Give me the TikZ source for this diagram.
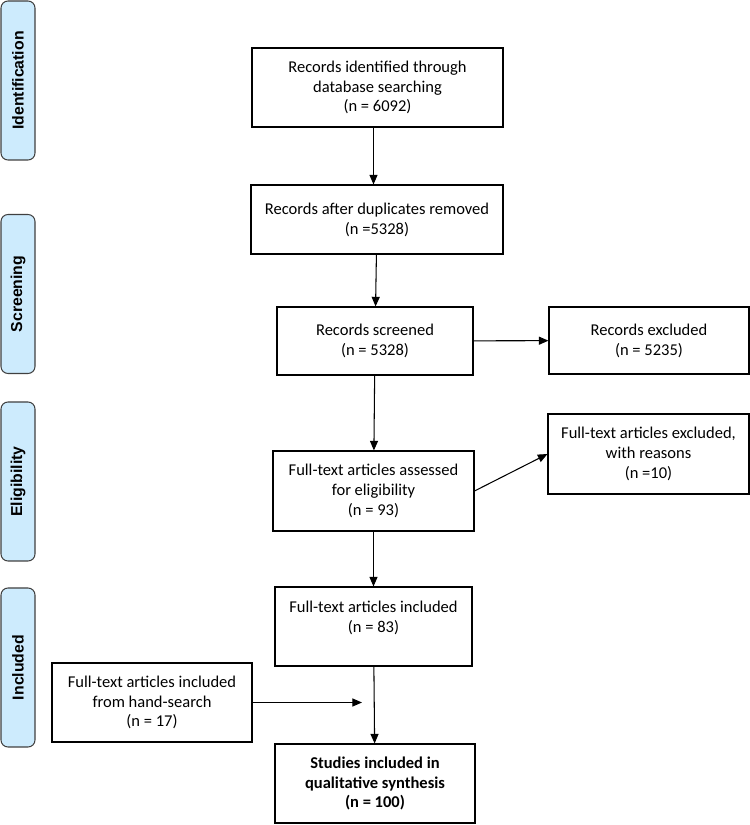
\documentclass[tikz,border=0pt]{standalone}
\usepackage{fontspec}
\setmainfont{Carlito}
\newfontfamily\phfont{Liberation Sans}
\usetikzlibrary{arrows.meta}
\definecolor{phfill}{RGB}{205,235,253}
\begin{document}
\begin{tikzpicture}
[ar/.style={-{Triangle[length=5.5pt,width=4.6pt]},line width=0.6pt},
 bx/.style={draw,line width=0.6pt,align=center,minimum width=4cm,minimum height=1.58cm,
   font=\fontsize{9.4}{11.3}\selectfont},
 ph/.style={draw=black!75,fill=phfill,rounded corners=4pt,line width=0.6pt,rotate=90,
   minimum width=3.18cm,minimum height=0.68cm,font=\phfont\bfseries\fontsize{9}{10}\selectfont}]
\useasboundingbox (0cm,0cm) rectangle (15cm,16.5cm);

\node [ph] at (0.36cm,14.89cm) (P1) {Identification};
\node [ph] at (0.36cm,10.62cm) (P2) {Screening};
\node [ph] at (0.36cm,6.87cm) (P3) {Eligibility};
\node [ph] at (0.36cm,3.15cm) (P4) {Included};

\node [bx,minimum width=5.02cm] at (7.55cm,14.75cm) (ID) {Records identified through\\database searching\\(n = 6092)};
\node [bx,minimum width=5.04cm,minimum height=1.38cm] at (7.54cm,12.11cm) (DUP) {Records after duplicates removed\\(n =5328)};
\node [bx,minimum width=3.92cm,minimum height=1.36cm] at (7.5cm,9.68cm) (SCR) {Records screened\\(n = 5328)};
\node [bx,minimum height=1.34cm] at (12.98cm,9.69cm) (EXR) {Records excluded\\(n = 5235)};
\node [bx,minimum width=4.02cm,minimum height=1.6cm] at (7.47cm,6.68cm) (ELG) {Full-text articles assessed\\for eligibility\\(n = 93)};
\node [bx,minimum width=4.02cm,minimum height=1.6cm] at (12.97cm,7.42cm) (EXF) {Full-text articles excluded,\\with reasons\\(n =10)};
\node [bx,minimum width=3.94cm] at (7.47cm,3.97cm) (INC) {Full-text articles included\\(n = 83)\\~};
\node [bx] at (3.04cm,2.45cm) (HS) {Full-text articles included\\from hand-search\\(n = 17)};
\node [bx,font=\fontsize{9.4}{11.3}\selectfont\bfseries] at (7.5cm,0.83cm) (QS) {Studies included in\\qualitative synthesis\\(n = 100)};
\coordinate (HE) at (7.24cm,2.45cm);

\draw [ar] (ID.south -| ELG) -- (DUP.north -| ELG);
\draw [ar] (DUP) -- (SCR);
\draw [ar] (SCR) -- (EXR);
\draw [ar] (SCR) -- (ELG);
\draw [ar] (ELG.east) -- (EXF.west);
\draw [ar] (ELG) -- (INC);
\draw [ar] (INC) -- (QS);
\draw [ar] (HS.east) -- (HE);
\end{tikzpicture}
\end{document}
